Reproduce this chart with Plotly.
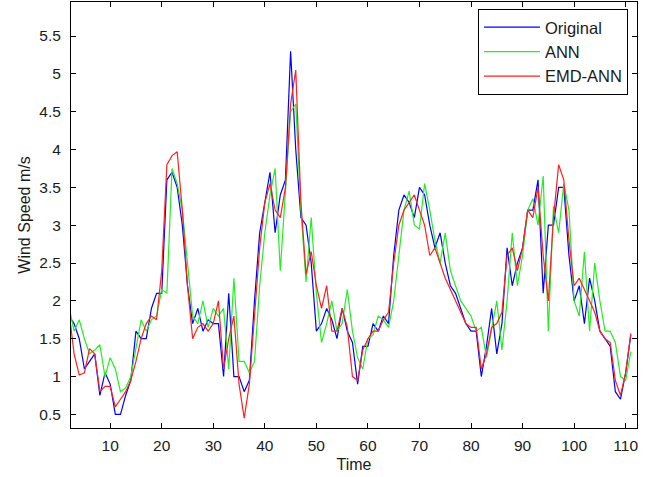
import plotly.graph_objects as go

time = list(range(2, 112))

original = [1.8, 1.7, 1.5, 1.1, 1.2, 1.3, 0.75, 1.05, 0.9, 0.5,
            0.5, 0.75, 0.95, 1.6, 1.5, 1.5, 1.9, 2.1, 2.1,
            3.6, 3.7, 3.5, 3.0, 2.2, 1.7, 1.9, 1.6, 1.75, 1.7,
            1.7, 1.0, 2.1, 1.0, 1.0, 0.8, 0.95, 2.0, 2.9, 3.3,
            3.7, 2.9, 3.4, 3.6, 5.3, 4.0, 3.1, 3.0, 2.5, 1.6,
            1.7, 1.9, 1.75, 1.5, 1.9, 1.6, 1.45, 0.9, 1.4, 1.4,
            1.7, 1.6, 1.8, 1.7, 2.6, 3.2, 3.4, 3.3, 3.1, 3.5,
            3.4, 3.0, 2.7, 2.9, 2.5, 2.2, 2.1, 1.9, 1.7, 1.6,
            1.6, 1.0, 1.4, 1.9, 1.3, 1.7, 2.7, 2.2, 2.5, 2.7,
            3.2, 3.2, 3.6, 2.1, 3.0, 3.0, 3.5, 3.5, 2.6, 2.0,
            2.2, 1.7, 2.3, 2.0, 1.6, 1.5, 1.4, 0.8, 0.7, 1.05, 1.55]

ann = [1.93, 1.6, 1.75, 1.5, 1.3, 1.35, 1.42, 1.0, 1.25, 1.1,
       0.8, 0.85, 1.0, 1.4, 1.75, 1.6, 1.75, 1.8, 2.15, 2.1,
       3.75, 3.55, 3.2, 2.5, 1.8, 1.7, 2.0, 1.65, 1.9, 1.8,
       1.9, 1.1, 2.3, 1.2, 1.2, 1.05, 1.2, 2.2, 2.9, 3.4,
       3.75, 2.4, 3.5, 4.5, 4.6, 3.2, 2.25, 3.1, 2.1, 1.45,
       1.7, 2.0, 1.6, 1.7, 2.15, 1.6, 1.25, 1.1, 1.5, 1.55,
       1.8, 1.75, 1.65, 2.0, 2.6, 3.2, 3.45, 3.0, 2.95, 3.55,
       3.2, 2.8, 2.5, 2.9, 2.4, 2.2, 2.0, 1.9, 1.8, 1.6,
       1.65, 1.25, 1.6, 2.0, 1.35, 2.0, 2.9, 2.2, 2.6, 3.2,
       3.35, 3.0, 3.65, 1.6, 3.25, 2.9, 3.55, 3.2, 2.0, 1.8,
       2.65, 1.6, 2.5, 2.0, 1.6, 1.6, 1.45, 1.0, 0.95, 1.33]

emd_ann = [1.87, 1.3, 1.02, 1.05, 1.37, 1.3, 0.8, 0.87, 0.87, 0.6,
           0.7, 0.8, 0.95, 1.2, 1.5, 1.7, 1.8, 1.75, 2.4, 3.8,
           3.92, 3.97, 3.2, 2.2, 1.5, 1.65, 1.7, 1.6, 1.7, 2.0,
           1.1, 1.5, 1.8, 0.9, 0.45, 0.9, 1.8, 2.7, 3.3, 3.55,
           3.2, 3.1, 3.5, 4.6, 5.05, 3.3, 2.35, 2.65, 2.2, 1.9,
           2.2, 1.6, 1.6, 1.9, 1.65, 1.0, 0.95, 1.35, 1.5, 1.6,
           1.6, 1.75, 1.85, 2.5, 3.0, 3.2, 3.3, 3.4, 3.2, 3.0,
           2.6, 2.7, 2.5, 2.3, 2.15, 2.0, 1.85, 1.7, 1.65, 1.65,
           1.1, 1.3, 1.65, 1.7, 1.85, 2.6, 2.7, 2.4, 2.7, 3.2,
           3.1, 3.5, 2.6, 2.0, 3.1, 3.8, 3.6, 2.8, 2.2, 2.3,
           2.15, 2.0, 1.85, 1.6, 1.5, 1.45, 0.95, 0.75, 1.05, 1.57]

x_ticks = [10, 20, 30, 40, 50, 60, 70, 80, 90, 100, 110]
y_ticks = [0.5, 1, 1.5, 2, 2.5, 3, 3.5, 4, 4.5, 5, 5.5]

FONT = "Liberation Sans, Arial, sans-serif"
TXT = "#1a1a1a"

fig = go.Figure()
fig.add_trace(go.Scatter(x=time, y=original, mode="lines", name="Original",
                         line=dict(color="#0000ff", width=1.2)))
fig.add_trace(go.Scatter(x=time, y=ann, mode="lines", name="ANN",
                         line=dict(color="#22ee22", width=1.2)))
fig.add_trace(go.Scatter(x=time, y=emd_ann, mode="lines", name="EMD-ANN",
                         line=dict(color="#ff2020", width=1.2)))

axis_common = dict(showline=True, linecolor="black", linewidth=1, mirror="ticks",
                   ticks="inside", ticklen=5, tickcolor="black", showgrid=False,
                   zeroline=False, tickfont=dict(family=FONT, size=15.5, color=TXT))

fig.update_layout(
    width=663, height=477,
    margin=dict(l=71, r=26, t=2, b=49),
    paper_bgcolor="white", plot_bgcolor="white",
    font=dict(family=FONT, size=15.5, color=TXT),
    xaxis=dict(range=[2.4, 112.2], tickvals=x_ticks, ticklabelstandoff=3, **axis_common,
               title=dict(text="Time", font=dict(family=FONT, size=16, color=TXT), standoff=6)),
    yaxis=dict(range=[0.32, 5.95], tickvals=y_ticks, ticklabelstandoff=6, **axis_common,
               title=dict(text="Wind Speed m/s", font=dict(family=FONT, size=16, color=TXT), standoff=4)),
    legend=dict(x=0.984, y=0.9838, xanchor="right", yanchor="top",
                bordercolor="black", borderwidth=1, bgcolor="white",
                font=dict(family=FONT, size=16.5, color=TXT),
                itemwidth=56, tracegroupgap=0),
    showlegend=True,
    hovermode=False,
)

fig.write_html("out.html", config={"displayModeBar": False},
               post_script="document.body.style.margin='0';")
